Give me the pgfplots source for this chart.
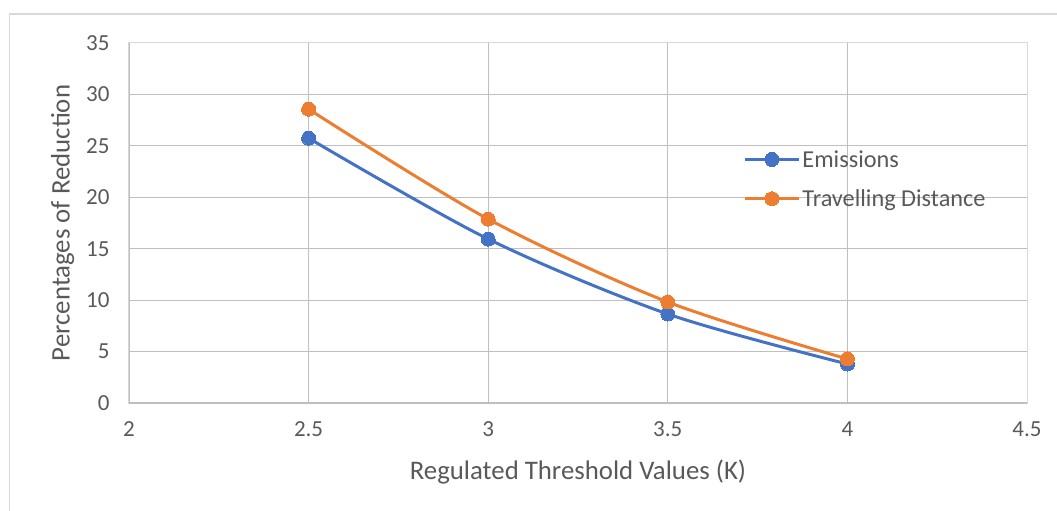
\documentclass[border=0pt]{standalone}
\usepackage{pgfplots}
\pgfplotsset{compat=1.18}
\usepackage{fontspec}
\setmainfont{Carlito}
\definecolor{cblue}{HTML}{4472C4}
\definecolor{corange}{HTML}{ED7D31}
\definecolor{grid}{HTML}{D9D9D9}
\definecolor{axl}{HTML}{BFBFBF}
\definecolor{txt}{HTML}{595959}
\begin{document}
\begin{tikzpicture}
\useasboundingbox (-129bp,-108bp) rectangle (928bp,403bp);
\draw[grid, line width=1.2bp] (-119.5bp,-108bp) -- (-119.5bp,389bp) -- (928bp,389bp);
\begin{axis}[
  at={(0,0)}, anchor=south west,
  scale only axis, width=898bp, height=360bp,
  xmin=2, xmax=4.5, ymin=0, ymax=35,
  xtick={2,2.5,...,4.5}, ytick={0,5,...,35},
  xticklabels={2,2.5,3,3.5,4,4.5},
  grid=major,
  major grid style={grid, line width=1bp},
  axis line style={grid, line width=1bp},
  tick style={draw=none},
  font=\fontsize{23bp}{27bp}\selectfont,
  ticklabel style={font=\fontsize{23bp}{27bp}\selectfont, text=txt},
  /pgf/number format/assume math mode=true,
  xticklabel style={yshift=-15bp},
  yticklabel style={xshift=-16bp},
  xlabel={Regulated Threshold Values (K)},
  ylabel={Percentages of Reduction},
  label style={text=txt, font=\fontsize{26.8bp}{32bp}\selectfont},
  xlabel style={yshift=-16bp},
  ylabel style={yshift=5bp},
  legend cell align=left,
  legend style={at={(0.684,0.708)}, anchor=north west, draw=none, fill=none,
    font=\fontsize{24.3bp}{29bp}\selectfont, text=txt, row sep=17bp,
    inner sep=0pt},
  legend image code/.code={\draw[mark repeat=2,mark phase=2] plot coordinates {(0bp,0bp)(27bp,0bp)(54bp,0bp)};},
]
\addplot[cblue, line width=3bp, smooth, tension=0.5, mark=*, mark size=7bp, mark options={fill=cblue, draw=cblue, line width=0pt}]
  coordinates {(2.5,25.75) (3,15.94) (3.5,8.65) (4,3.79)};
\addlegendentry{Emissions}
\addplot[corange, line width=3bp, smooth, tension=0.5, mark=*, mark size=7bp, mark options={fill=corange, draw=corange, line width=0pt}]
  coordinates {(2.5,28.57) (3,17.88) (3.5,9.82) (4,4.28)};
\addlegendentry{Travelling Distance}
\draw[axl, line width=1.2bp] (axis cs:2,35) -- (axis cs:2,0) -- (axis cs:4.5,0);
\end{axis}
\end{tikzpicture}
\end{document}
